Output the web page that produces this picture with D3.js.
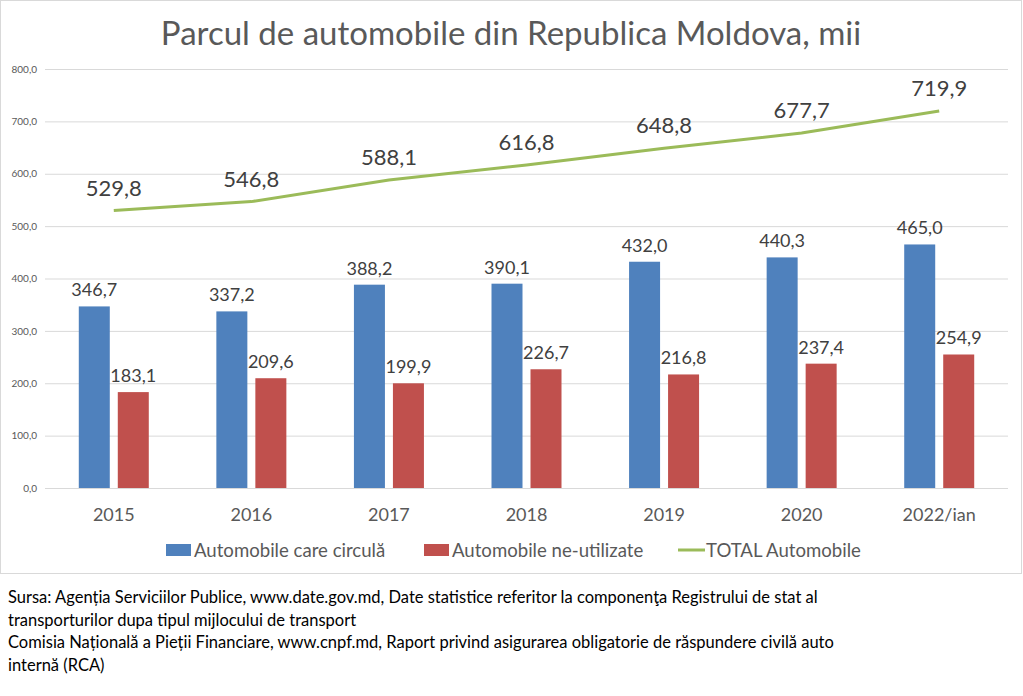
<!DOCTYPE html>
<html>
<head>
<meta charset="utf-8">
<script src="https://cdn.jsdelivr.net/npm/d3@7"></script>
<style>
  body { margin: 0; background: #fff; }
  svg { font-family: Lato, "Open Sans", sans-serif; }
</style>
</head>
<body>
<svg width="1023" height="696"></svg>
<script>
const years = ['2015', '2016', '2017', '2018', '2019', '2020', '2022/ian']
const circulating = [346.7, 337.2, 388.2, 390.1, 432.0, 440.3, 465.0]
const unused = [183.1, 209.6, 199.9, 226.7, 216.8, 237.4, 254.9]
const total = [529.8, 546.8, 588.1, 616.8, 648.8, 677.7, 719.9]
const yTicks = [0, 100, 200, 300, 400, 500, 600, 700, 800]
const sourceLines = [
    'Sursa: Agenția Serviciilor Publice, www.date.gov.md,  Date statistice referitor la componenţa Registrului de stat al',
    'transporturilor dupa tipul mijlocului de transport',
    'Comisia Națională a Pieții Financiare, www.cnpf.md, Raport privind asigurarea obligatorie de răspundere civilă auto',
    'internă (RCA)'
]

const fmt = v => v.toFixed(1).replace('.', ',')

const svg = d3.select('svg')
const margin = {top: 69, right: 15, bottom: 208, left: 45}
const width = 1023 - margin.left - margin.right
const height = 696 - margin.top - margin.bottom

// chart frame
svg.append('rect')
    .attr('x', 0.5).attr('y', 0.5)
    .attr('width', 1021).attr('height', 573)
    .attr('fill', '#fff')
    .attr('stroke', '#d9d9d9')

svg.append('text')
    .attr('x', 511).attr('y', 45)
    .attr('text-anchor', 'middle')
    .attr('fill', '#595959')
    .style('font-size', '33px')
    .text('Parcul de automobile din Republica Moldova, mii')

const g = svg.append('g')
    .attr('transform', `translate(${margin.left}, ${margin.top})`)

const x = d3.scaleBand().domain(years).range([0, width])
const y = d3.scaleLinear().domain([0, 800]).range([height, 0])
const barW = 31, barGap = 8

// gridlines + y labels
g.append('g')
    .attr('class', 'axis axis-y')
    .call(d3.axisLeft(y).tickValues(yTicks).tickSize(-width).tickFormat(fmt))
    .call(a => a.select('.domain').remove())
    .call(a => a.selectAll('line').attr('stroke', '#d9d9d9'))
    .call(a => a.selectAll('text')
        .attr('x', -8)
        .attr('fill', '#595959')
        .style('font-size', '10px')
        .style('font-family', 'Lato, sans-serif'))

// x labels
g.append('g')
    .attr('class', 'axis axis-x')
    .attr('transform', `translate(0, ${height})`)
    .call(d3.axisBottom(x).tickSize(0).tickPadding(20))
    .call(a => a.select('.domain').remove())
    .call(a => a.selectAll('text')
        .attr('fill', '#595959')
        .style('font-size', '18px')
        .style('font-family', 'Lato, sans-serif'))

const cx = d => x(d) + x.bandwidth() / 2

const series = [
    {values: circulating, color: '#4f81bd', off: -(barW + barGap) / 2},
    {values: unused, color: '#c0504d', off: (barW + barGap) / 2}
]

series.forEach(s => {
    g.selectAll(null)
        .data(years)
        .enter().append('rect')
        .attr('x', (d, i) => cx(d) + s.off - barW / 2)
        .attr('y', (d, i) => y(s.values[i]))
        .attr('width', barW)
        .attr('height', (d, i) => height - y(s.values[i]))
        .attr('fill', s.color)

    g.selectAll(null)
        .data(years)
        .enter().append('text')
        .attr('x', d => cx(d) + s.off)
        .attr('y', (d, i) => y(s.values[i]) - 10)
        .attr('text-anchor', 'middle')
        .attr('fill', '#404040')
        .style('font-size', '18px')
        .text((d, i) => fmt(s.values[i]))
})

// total line
const line = d3.line()
    .x((d, i) => cx(years[i]))
    .y(d => y(d))

g.append('path')
    .datum(total)
    .attr('fill', 'none')
    .attr('stroke', '#9bbb59')
    .attr('stroke-width', 3)
    .attr('d', line)

g.selectAll('.tot-label')
    .data(total)
    .enter().append('text')
    .attr('class', 'tot-label')
    .attr('x', (d, i) => cx(years[i]))
    .attr('y', d => y(d) - 15)
    .attr('text-anchor', 'middle')
    .attr('fill', '#404040')
    .style('font-size', '22px')
    .text(fmt)

// legend
const legend = svg.append('g').attr('transform', 'translate(0, 550)')
const items = [
    {name: 'Automobile care circulă', color: '#4f81bd', x: 166, type: 'rect'},
    {name: 'Automobile ne-utilizate', color: '#c0504d', x: 424, type: 'rect'},
    {name: 'TOTAL Automobile', color: '#9bbb59', x: 678, type: 'line'}
]
items.forEach(it => {
    if (it.type === 'rect') {
        legend.append('rect')
            .attr('x', it.x).attr('y', -6)
            .attr('width', 25).attr('height', 12)
            .attr('fill', it.color)
    } else {
        legend.append('line')
            .attr('x1', it.x).attr('x2', it.x + 27)
            .attr('y1', 0).attr('y2', 0)
            .attr('stroke', it.color)
            .attr('stroke-width', 3)
    }
    legend.append('text')
        .attr('x', it.x + 28).attr('y', 6.5)
        .attr('fill', '#595959')
        .style('font-size', '18.6px')
        .text(it.name)
})

// source note
svg.append('g')
    .selectAll('text')
    .data(sourceLines)
    .enter().append('text')
    .attr('x', 8)
    .attr('y', (d, i) => 603 + i * 22.5)
    .attr('fill', '#000')
    .style('font-size', '16.5px')
    .text(d => d)
</script>
</body>
</html>
